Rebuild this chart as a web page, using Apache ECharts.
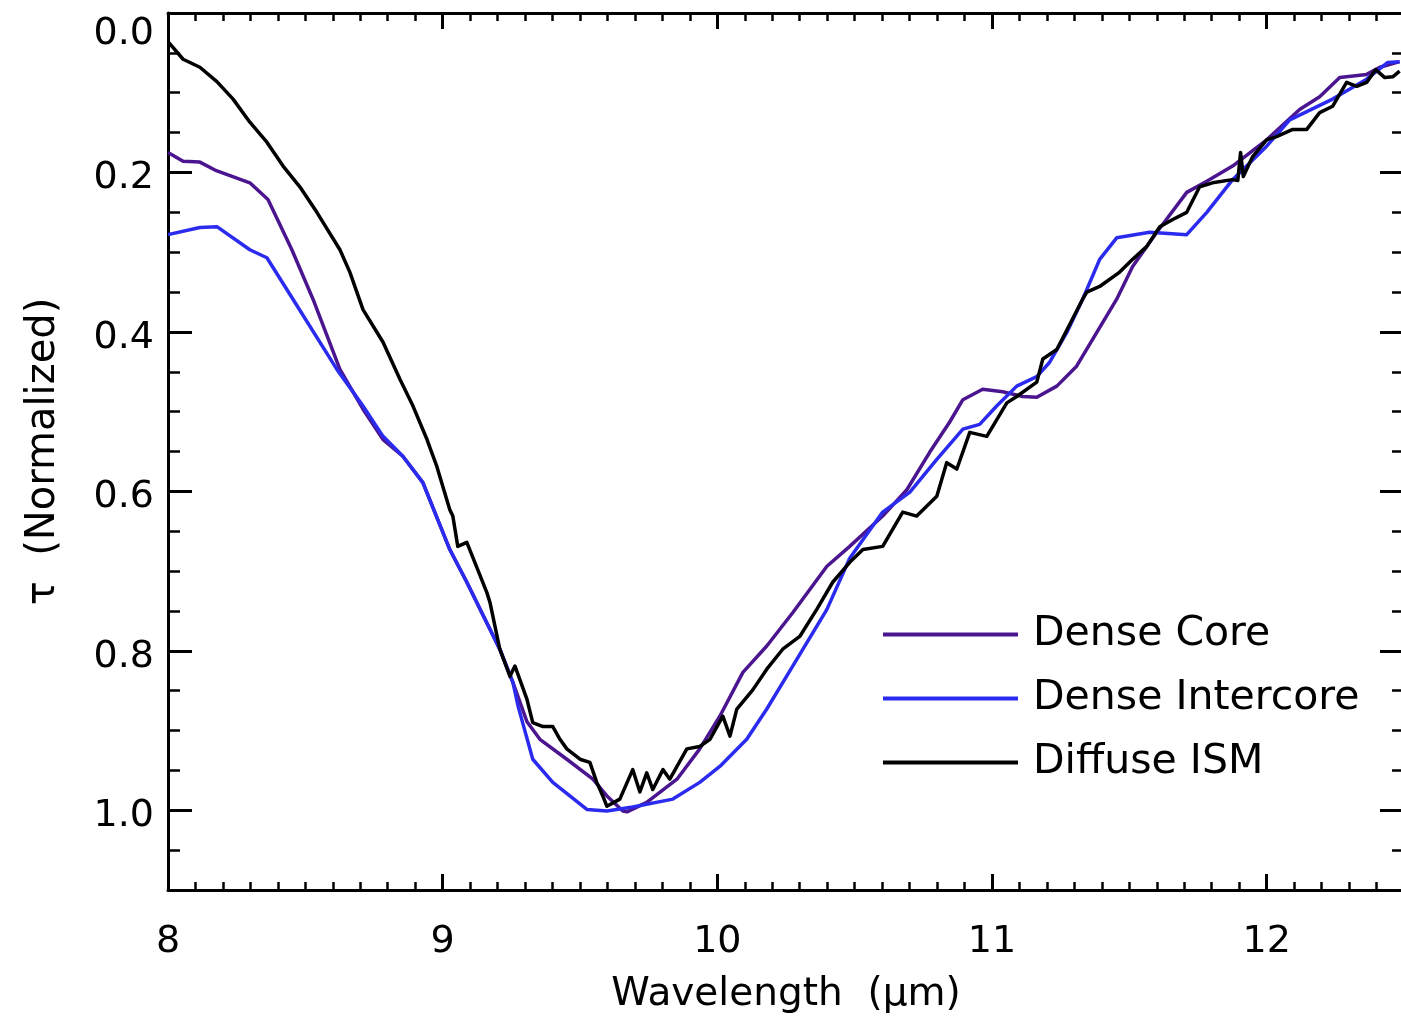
<!DOCTYPE html>
<html>
<head>
<meta charset="utf-8">
<script src="https://cdn.jsdelivr.net/npm/echarts@6/dist/echarts.min.js"></script>
<style>
html,body{margin:0;padding:0;background:#fff;}
#chart{width:1401px;height:1018px;}
</style>
</head>
<body>
<div id="chart"></div>
<script>
// ---- data (wavelength in micron, normalized tau) ----
const seriesNames = ['Dense Core', 'Dense Intercore', 'Diffuse ISM'];
const xTickValues = [8, 9, 10, 11, 12];
const yTickValues = [0.0, 0.2, 0.4, 0.6, 0.8, 1.0];

const denseCore = [
  [8.000,0.175],[8.055,0.186],[8.116,0.187],[8.171,0.197],[8.298,0.213],[8.364,0.234],
  [8.451,0.297],[8.528,0.359],[8.626,0.447],[8.710,0.497],[8.783,0.535],[8.855,0.556],
  [8.928,0.589],[9.026,0.673],[9.088,0.714],[9.208,0.798],[9.256,0.840],[9.307,0.889],
  [9.354,0.911],[9.452,0.936],[9.547,0.961],[9.598,0.982],[9.656,1.001],[9.671,1.002],
  [9.743,0.990],[9.853,0.961],[9.936,0.923],[10.009,0.882],[10.093,0.827],[10.180,0.794],
  [10.275,0.752],[10.399,0.694],[10.482,0.669],[10.602,0.631],[10.690,0.598],[10.773,0.551],
  [10.846,0.513],[10.894,0.485],[10.966,0.472],[11.039,0.475],[11.112,0.481],[11.163,0.482],
  [11.236,0.468],[11.308,0.443],[11.381,0.401],[11.454,0.359],[11.512,0.318],[11.600,0.275],
  [11.709,0.225],[11.782,0.211],[11.876,0.192],[12.000,0.159],[12.120,0.121],[12.193,0.105],
  [12.266,0.081],[12.364,0.077],[12.412,0.068],[12.484,0.061]
];

const denseIntercore = [
  [8.000,0.278],[8.116,0.269],[8.178,0.268],[8.298,0.297],[8.360,0.307],[8.455,0.359],
  [8.615,0.447],[8.710,0.493],[8.783,0.531],[8.855,0.556],[8.928,0.589],[9.026,0.673],
  [9.088,0.714],[9.208,0.798],[9.256,0.840],[9.275,0.870],[9.328,0.936],[9.401,0.965],
  [9.525,0.999],[9.598,1.001],[9.692,0.996],[9.838,0.986],[9.936,0.965],[10.009,0.945],
  [10.107,0.911],[10.180,0.873],[10.275,0.819],[10.399,0.748],[10.482,0.684],[10.602,0.626],
  [10.701,0.601],[10.799,0.560],[10.894,0.522],[10.955,0.516],[11.017,0.493],[11.090,0.468],
  [11.163,0.456],[11.210,0.438],[11.272,0.401],[11.330,0.359],[11.392,0.309],[11.454,0.282],
  [11.574,0.275],[11.709,0.278],[11.782,0.250],[11.876,0.209],[12.000,0.167],[12.084,0.134],
  [12.240,0.108],[12.364,0.083],[12.441,0.062],[12.484,0.061]
];

const diffuseISM = [
  [8.000,0.036],[8.055,0.058],[8.116,0.068],[8.178,0.086],[8.237,0.108],[8.298,0.137],
  [8.360,0.162],[8.419,0.192],[8.480,0.218],[8.542,0.250],[8.626,0.297],[8.662,0.325],
  [8.710,0.372],[8.783,0.413],[8.844,0.459],[8.892,0.493],[8.943,0.535],[8.979,0.569],
  [9.026,0.623],[9.037,0.631],[9.055,0.669],[9.088,0.664],[9.161,0.727],[9.172,0.739],
  [9.208,0.798],[9.245,0.832],[9.263,0.819],[9.307,0.861],[9.328,0.890],[9.365,0.895],
  [9.401,0.895],[9.427,0.911],[9.452,0.923],[9.500,0.936],[9.536,0.940],[9.561,0.965],
  [9.583,0.982],[9.598,0.995],[9.645,0.986],[9.692,0.949],[9.718,0.977],[9.743,0.953],
  [9.765,0.974],[9.802,0.949],[9.827,0.961],[9.889,0.923],[9.936,0.920],[9.973,0.911],
  [10.020,0.882],[10.046,0.907],[10.071,0.873],[10.129,0.849],[10.180,0.823],[10.238,0.798],
  [10.300,0.782],[10.362,0.748],[10.420,0.714],[10.482,0.689],[10.530,0.673],[10.602,0.669],
  [10.675,0.626],[10.726,0.631],[10.799,0.606],[10.835,0.564],[10.872,0.572],[10.919,0.526],
  [10.981,0.531],[11.054,0.489],[11.090,0.481],[11.163,0.463],[11.185,0.434],[11.236,0.422],
  [11.330,0.359],[11.345,0.350],[11.392,0.343],[11.465,0.325],[11.512,0.309],[11.563,0.293],
  [11.611,0.268],[11.658,0.259],[11.709,0.250],[11.756,0.218],[11.803,0.213],[11.876,0.209],
  [11.895,0.210],[11.905,0.175],[11.915,0.205],[11.949,0.180],[12.000,0.159],[12.036,0.155],
  [12.095,0.146],[12.146,0.146],[12.193,0.125],[12.240,0.117],[12.291,0.087],[12.328,0.092],
  [12.364,0.087],[12.397,0.071],[12.430,0.081],[12.459,0.080],[12.484,0.073]
];

const seriesColors = ['#4b1590', '#2b2bef', '#000000'];

// ---- chart ----
const FONT = 'DejaVu Sans';
const chart = echarts.init(document.getElementById('chart'), null, {renderer: 'canvas'});

function xAx(pos, major, withLabel) {
  return {
    type: 'value', position: pos, min: 8, max: 12.5,
    interval: major ? 1 : 0.1,
    axisLine: {show: major, onZero: false, lineStyle: {color: '#000', width: 3}},
    axisTick: {show: true, inside: true, length: major ? 16 : 8,
               lineStyle: {color: '#000', width: major ? 3 : 2.5}},
    axisLabel: {show: withLabel, margin: 33, color: '#000', fontFamily: FONT, fontSize: 38,
      hideOverlap: false,
      formatter: v => (xTickValues.indexOf(v) >= 0 ? String(v) : '')},
    splitLine: {show: false},
    name: withLabel ? 'Wavelength  (\u03bcm)' : '',
    nameLocation: 'middle', nameGap: 85,
    nameTextStyle: {color: '#000', fontFamily: FONT, fontSize: 39}
  };
}
function yAx(pos, major, withLabel) {
  return {
    type: 'value', position: pos, min: 0, max: 1.1, inverse: true,
    interval: major ? 0.2 : 0.05,
    axisLine: {show: major, onZero: false, lineStyle: {color: '#000', width: 3}},
    axisTick: {show: true, inside: true, length: major ? 24 : 12,
               lineStyle: {color: '#000', width: major ? 3 : 2.5}},
    axisLabel: {show: withLabel, margin: 14, color: '#000', fontFamily: FONT, fontSize: 38,
      hideOverlap: false,
      formatter: v => {
        const hit = yTickValues.find(t => Math.abs(t - v) < 1e-6);
        if (hit === undefined) return '';
        return (hit === 0 ? '{f|' : '{n|') + hit.toFixed(1) + '}';
      },
      rich: {
        n: {fontFamily: FONT, fontSize: 38, color: '#000', padding: [12, 0, 0, 0]},
        f: {fontFamily: FONT, fontSize: 38, color: '#000', padding: [42, 0, 0, 0]}
      }},
    splitLine: {show: false},
    name: withLabel ? '\u03c4  (Normalized)' : '',
    nameLocation: 'middle', nameGap: 104, nameRotate: 90,
    nameTextStyle: {color: '#000', fontFamily: FONT, fontSize: 40}
  };
}

const option = {
  animation: false,
  backgroundColor: '#fff',
  grid: {left: 168, top: 13, width: 1236, height: 877,
         containLabel: false, outerBoundsMode: 'none'},
  xAxis: [xAx('bottom', true, true), xAx('bottom', false, false),
          xAx('top', true, false), xAx('top', false, false)],
  yAxis: [yAx('left', true, true), yAx('left', false, false),
          yAx('right', true, false), yAx('right', false, false)],
  legend: {
    data: seriesNames, orient: 'vertical', left: 883, top: 614,
    icon: 'rect', itemWidth: 135, itemHeight: 4, itemGap: 23, padding: 0,
    textStyle: {color: '#000', fontFamily: FONT, fontSize: 41, lineHeight: 41,
                padding: [0, 0, 0, 10]}
  },
  series: [
    {name: seriesNames[0], data: denseCore},
    {name: seriesNames[1], data: denseIntercore},
    {name: seriesNames[2], data: diffuseISM}
  ].map((s, i) => ({
    type: 'line', name: s.name, data: s.data, xAxisIndex: 0, yAxisIndex: 0,
    showSymbol: false, symbol: 'none', smooth: false,
    color: seriesColors[i],
    lineStyle: {color: seriesColors[i], width: 3.5, join: 'round'}
  }))
};
chart.setOption(option);
</script>
</body>
</html>
